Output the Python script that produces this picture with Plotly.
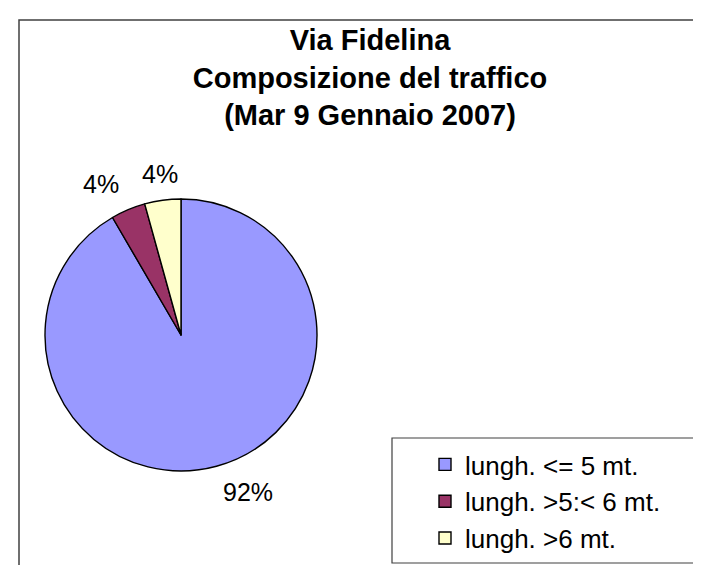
import math
import plotly.graph_objects as go

categories = ["lungh. <= 5 mt.", "lungh. >5:< 6 mt.", "lungh. >6 mt."]
shares = [91.6, 4.1, 4.3]
colors = ["#9999FF", "#993366", "#FFFFCC"]
title_lines = ["Via Fidelina", "Composizione del traffico", "(Mar 9 Gennaio 2007)"]

W, H = 701, 565
FONT = "Arial, Liberation Sans, sans-serif"

# pie placement (paper domain)
dom_x = [37 / W, 309 / W]
dom_y = [1 - 463 / H, 1 - 191 / H]

fig = go.Figure()
fig.add_trace(go.Pie(
    labels=categories,
    values=shares,
    sort=False,
    direction="clockwise",
    rotation=0,
    marker=dict(colors=colors, line=dict(color="black", width=1.4)),
    textinfo="none",
    domain=dict(x=dom_x, y=dom_y),
    hoverinfo="label+percent",
))

# percentage labels placed just outside each slice, computed from the data
cx_px = (dom_x[0] + dom_x[1]) / 2 * W
cy_px = (1 - (dom_y[0] + dom_y[1]) / 2) * H
R_px = min((dom_x[1] - dom_x[0]) * W, (dom_y[1] - dom_y[0]) * H) / 2
rx_lab = R_px + 19
ry_lab = R_px + 10
total = sum(shares)
cum = 0.0
for v in shares:
    mid = (cum + v / 2) / total * 2 * math.pi
    cum += v
    s, c = math.sin(mid), math.cos(mid)
    px = cx_px + rx_lab * s
    py = cy_px - ry_lab * c
    if s > 0.2:
        xa = "left"
    elif s < -0.2:
        xa = "right"
    else:
        xa = "center"
    fig.add_annotation(
        x=px / W, y=1 - py / H, xref="paper", yref="paper",
        text=f"{v / total:.0%}", showarrow=False,
        xanchor=xa,
        yanchor="top" if c < 0 else "bottom",
        font=dict(family=FONT, size=25, color="black"),
    )

# chart area frame (extends past the picture edges, as in the reference)
fig.add_shape(type="rect", xref="paper", yref="paper",
              x0=11 / W, x1=1.05, y0=-0.05, y1=1 - 12 / H,
              line=dict(color="#404040", width=1.5), fillcolor="rgba(0,0,0,0)", layer="below")
# legend frame
fig.add_shape(type="rect", xref="paper", yref="paper",
              x0=384 / W, x1=1.05, y0=1 - 555 / H, y1=1 - 430 / H,
              line=dict(color="#404040", width=1.2), fillcolor="white", layer="below")

fig.update_layout(
    width=W, height=H,
    margin=dict(l=0, r=0, t=0, b=0),
    paper_bgcolor="white",
    plot_bgcolor="white",
    title=dict(text="<br>".join(title_lines), x=362 / W, xanchor="center",
               xref="paper", yref="container", y=1 - 42 / H, yanchor="top",
               font=dict(family=FONT, size=29, color="black", weight="bold")),
    showlegend=True,
    legend=dict(x=417 / W, xanchor="left", y=1 - 433 / H, yanchor="top",
                bgcolor="rgba(0,0,0,0)", borderwidth=0,
                font=dict(family=FONT, size=26, color="black")),
)

fig.write_html("out.html")
